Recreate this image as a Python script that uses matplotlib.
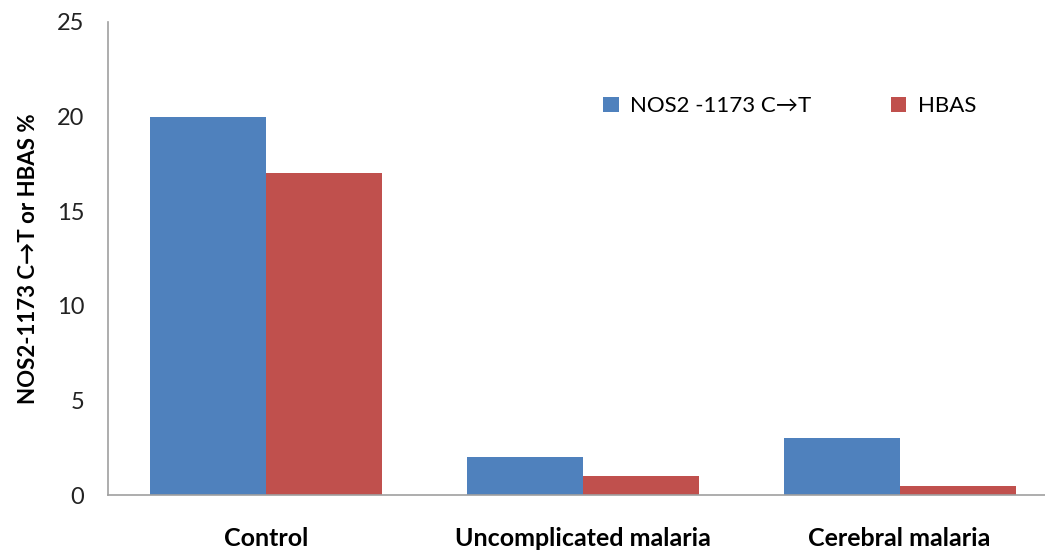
import matplotlib
matplotlib.use("Agg")
import matplotlib.pyplot as plt
import numpy as np

categories = ["Control", "Uncomplicated malaria", "Cerebral malaria"]
nos2 = [20, 2, 3]
hbas = [17, 1, 0.5]
series_labels = ["NOS2 -1173 C\u2192T", "HBAS"]
y_ticks = [0, 5, 10, 15, 20, 25]

plt.rcParams["font.family"] = ["Lato", "DejaVu Sans"]

fig = plt.figure(figsize=(10.45, 5.54), dpi=100)
ax = fig.add_axes([108 / 1045, 59 / 554, (1058 - 108) / 1045, (495 - 22) / 554])

x = np.arange(len(categories))
w = 0.366
ax.bar(x - w / 2, nos2, w, color="#4F81BD", label=series_labels[0])
ax.bar(x + w / 2, hbas, w, color="#C0504D", label=series_labels[1])

ax.set_xlim(-0.5, 2.5)
ax.set_ylim(0, 25)
ax.set_yticks(y_ticks)
ax.set_yticklabels([str(t) for t in y_ticks], fontsize=17, color="#222222")
ax.set_xticks(x)
ax.set_xticklabels(categories, fontsize=18, fontweight="bold")
ax.tick_params(axis="y", length=0, pad=17)
ax.tick_params(axis="x", length=0, pad=23)

for s in ["top", "right"]:
    ax.spines[s].set_visible(False)
for s in ["left", "bottom"]:
    ax.spines[s].set_color("#a0a0a0")
    ax.spines[s].set_linewidth(1.2)

ax.set_ylabel("NOS2-1173 C\u2192T or HBAS %", fontsize=16, fontweight="bold", labelpad=13)

ax.legend(loc="upper left", bbox_to_anchor=(0.5, 0.885), ncol=2, frameon=False,
          fontsize=16, handlelength=0.7, handleheight=0.7, columnspacing=3.6,
          handletextpad=0.5)

fig.savefig("out.png", dpi=100)
